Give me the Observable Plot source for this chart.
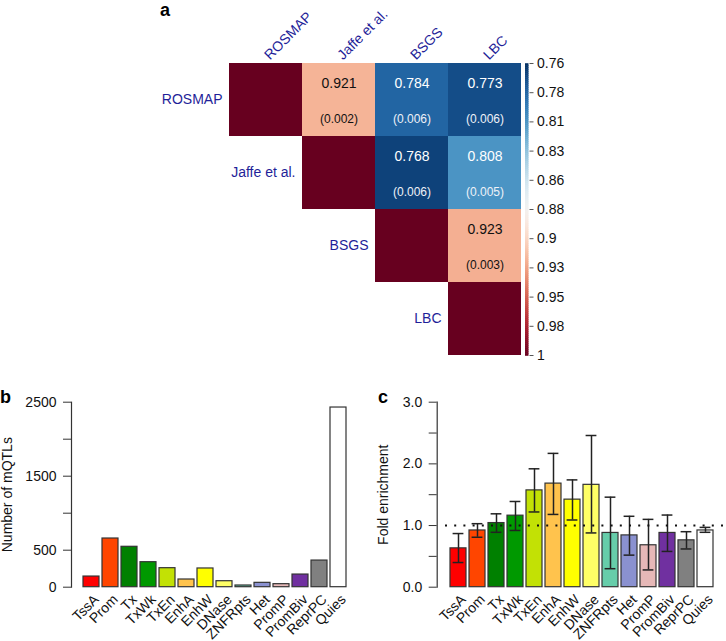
<!DOCTYPE html>
<html><head><meta charset="utf-8">
<script src="https://cdn.jsdelivr.net/npm/d3@7"></script>
<script src="https://cdn.jsdelivr.net/npm/@observablehq/plot@0.6"></script>
<style>
body{margin:0;background:#fff;}
#root{position:relative;width:726px;height:641px;overflow:hidden;font-family:"Liberation Sans",Arial,Helvetica,sans-serif;}
.panel{position:absolute;}
.lab{position:absolute;font-weight:bold;font-size:18px;line-height:20px;color:#000;}
</style></head><body><div id="root"></div>
<script>
// ---------- data ----------
const studies = ["ROSMAP", "Jaffe et al.", "BSGS", "LBC"];
const pairRow = ["ROSMAP", "ROSMAP", "ROSMAP", "Jaffe et al.", "Jaffe et al.", "BSGS"];
const pairCol = ["Jaffe et al.", "BSGS", "LBC", "BSGS", "LBC", "LBC"];
const pairR = [0.921, 0.784, 0.773, 0.768, 0.808, 0.923];
const pairSE = [0.002, 0.006, 0.006, 0.006, 0.005, 0.003];
const diagValue = 1;

const cbTicks = [0.76, 0.784, 0.808, 0.832, 0.856, 0.88, 0.904, 0.928, 0.952, 0.976, 1];
const cbLabels = ["0.76", "0.78", "0.81", "0.83", "0.86", "0.88", "0.9", "0.93", "0.95", "0.98", "1"];

const states = ["TssA", "Prom", "Tx", "TxWk", "TxEn", "EnhA", "EnhW", "DNase", "ZNFRpts", "Het", "PromP", "PromBiv", "ReprPC", "Quies"];
const stateColors = ["#FF0000", "#FF4500", "#008000", "#009900", "#C2E105", "#FFC34D", "#FFFF00", "#FFFF66", "#66CDAA", "#8A91D0", "#E6B8B7", "#7030A0", "#808080", "#FFFFFF"];

const mqtlCounts = [144, 658, 546, 338, 257, 104, 253, 81, 23, 59, 41, 171, 360, 2428];
const bTicks = [0, 500, 1000, 1500, 2000, 2500];
const bTickLabels = ["0", "500", "", "1500", "", "2500"];

const foldEnrich = [0.63, 0.92, 1.04, 1.16, 1.57, 1.68, 1.42, 1.66, 0.88, 0.84, 0.68, 0.88, 0.76, 0.92];
const foldLow =    [0.40, 0.81, 0.89, 0.92, 1.22, 1.18, 1.09, 0.88, 0.30, 0.52, 0.28, 0.58, 0.62, 0.89];
const foldHigh =   [0.87, 1.03, 1.19, 1.39, 1.92, 2.17, 1.74, 2.46, 1.46, 1.15, 1.10, 1.17, 0.90, 0.97];
const cTicks = [0, 0.5, 1, 1.5, 2, 2.5, 3];
const cTickLabels = ["0.0", "", "1.0", "", "2.0", "", "3.0"];

// ---------- setup ----------
const FONT = '"Liberation Sans", Arial, Helvetica, sans-serif';
const root = document.getElementById("root");
function place(node, left, top) {
  node.classList.add("panel");
  node.style.left = left + "px";
  node.style.top = top + "px";
  root.appendChild(node);
}
function label(txt, left, top) {
  const d = document.createElement("div");
  d.className = "lab"; d.textContent = txt;
  d.style.left = left + "px"; d.style.top = top + "px";
  root.appendChild(d);
}
// 0.76 -> dark blue, 1 -> dark red (RdBu)
const colorOpts = {type: "linear", domain: [0.76, 1], interpolate: t => d3.interpolateRdBu(1 - t)};
const labBlue = "#1f1f99";

// ---------- panel a: heatmap ----------
const pairs = pairR.map((r, i) => ({row: pairRow[i], col: pairCol[i], r, se: pairSE[i]}));
const cells = studies.map(s => ({row: s, col: s, r: diagValue})).concat(pairs);

const heat = Plot.plot({
  width: 726, height: 370,
  marginLeft: 229, marginRight: 205, marginTop: 63, marginBottom: 15,
  x: {domain: studies, padding: 0, axis: null},
  y: {domain: studies, padding: 0, axis: null},
  color: colorOpts,
  style: {fontFamily: FONT, fontSize: "14px", background: "transparent", overflow: "visible"},
  marks: [
    Plot.cell(cells, {x: "col", y: "row", fill: "r", inset: 0}),
    Plot.text(pairs.filter(d => d.r > 0.88), {x: "col", y: "row", text: d => d.r.toFixed(3), dy: -16, fontSize: 14, fill: "#111"}),
    Plot.text(pairs.filter(d => d.r <= 0.88), {x: "col", y: "row", text: d => d.r.toFixed(3), dy: -16, fontSize: 14, fill: "#ffffff"}),
    Plot.text(pairs.filter(d => d.r > 0.88), {x: "col", y: "row", text: d => `(${d.se.toFixed(3)})`, dy: 19, fontSize: 12, fill: "#111"}),
    Plot.text(pairs.filter(d => d.r <= 0.88), {x: "col", y: "row", text: d => `(${d.se.toFixed(3)})`, dy: 19, fontSize: 12, fill: "#eef2f8"}),
    Plot.text(studies, {x: d => d, frameAnchor: "top", rotate: -45, textAnchor: "start", dx: -3, dy: -10, fontSize: 14, fill: labBlue}),
    Plot.text(studies, {x: d => d, y: d => d, textAnchor: "end", dx: -43.5, fontSize: 14, fill: labBlue})
  ]
});
place(heat, 0, 0);

// colour bar
const cbLabelMap = new Map(cbTicks.map((t, i) => [t, cbLabels[i]]));
const ramp = d3.range(0, 146).map(i => 0.76 + (i + 0.5) * (0.24 / 146));
const cbar = Plot.plot({
  width: 90, height: 370,
  marginLeft: 10, marginRight: 76.5, marginTop: 63, marginBottom: 15,
  y: {domain: [0.76, 1], reverse: true},
  color: colorOpts,
  style: {fontFamily: FONT, fontSize: "14px", background: "transparent", overflow: "visible"},
  marks: [
    Plot.ruleY(ramp, {y: d => d, stroke: d => d, strokeWidth: 2.6}),
    Plot.axisY(cbTicks, {anchor: "right", tickSize: 4, tickPadding: 4, tickFormat: d => cbLabelMap.get(d), fontSize: 14, stroke: "#555", fill: "#111", label: null})
  ]
});
place(cbar, 515, 0);

// ---------- panel b ----------
const bData = states.map((s, i) => ({state: s, n: mqtlCounts[i], col: stateColors[i]}));
const bLabelMap = new Map(bTicks.map((t, i) => [t, bTickLabels[i]]));
const bPlot = Plot.plot({
  width: 370, height: 261,
  marginLeft: 71, marginRight: 11.3, marginTop: 21.7, marginBottom: 54.3,
  x: {domain: states, paddingInner: 0.16, paddingOuter: 0.52, axis: null},
  y: {domain: [0, 2500]},
  color: {type: "identity"},
  style: {fontFamily: FONT, fontSize: "14px", background: "transparent", overflow: "visible"},
  marks: [
    Plot.barY(bData, {x: "state", y: "n", fill: "col", stroke: "#333", strokeWidth: 1.2}),
    Plot.frame({anchor: "left", stroke: "#333", strokeWidth: 1.2}),
    Plot.axisY(bTicks, {tickSize: 8, tickPadding: 7, tickFormat: d => bLabelMap.get(d), fontSize: 14, stroke: "#333", fill: "#111", label: null}),
    Plot.text(states, {x: d => d, frameAnchor: "bottom", dy: 10, dx: 5, rotate: -45, textAnchor: "end", lineAnchor: "middle", fontSize: 14, fill: "#111"}),
    Plot.text(["Number of mQTLs"], {frameAnchor: "left", rotate: -90, textAnchor: "middle", dx: -63.5, fontSize: 14, fill: "#111"})
  ]
});
place(bPlot, 0, 380);

// ---------- panel c ----------
const cData = states.map((s, i) => ({state: s, v: foldEnrich[i], lo: foldLow[i], hi: foldHigh[i], col: stateColors[i]}));
const cLabelMap = new Map(cTicks.map((t, i) => [t, cTickLabels[i]]));
const cPlot = Plot.plot({
  width: 356, height: 261,
  marginLeft: 66.7, marginRight: 0.7, marginTop: 21.7, marginBottom: 54.3,
  x: {domain: states, paddingInner: 0.16, paddingOuter: 0.548, axis: null},
  y: {domain: [0, 3]},
  color: {type: "identity"},
  style: {fontFamily: FONT, fontSize: "14px", background: "transparent", overflow: "visible"},
  marks: [
    Plot.barY(cData, {x: "state", y: "v", fill: "col", stroke: "#333", strokeWidth: 1.2}),
    Plot.ruleX(cData, {x: "state", y1: "lo", y2: "hi", stroke: "#222", strokeWidth: 1.5}),
    Plot.tickY(cData, {x: "state", y: "hi", insetLeft: 2.6, insetRight: 2.6, stroke: "#222", strokeWidth: 1.5}),
    Plot.tickY(cData, {x: "state", y: "lo", insetLeft: 2.6, insetRight: 2.6, stroke: "#222", strokeWidth: 1.5}),
    Plot.ruleY([1], {stroke: "#111", strokeWidth: 2, strokeDasharray: "2,7.2", insetLeft: 8.3}),
    Plot.frame({anchor: "left", stroke: "#333", strokeWidth: 1.2}),
    Plot.axisY(cTicks, {tickSize: 8, tickPadding: 7, tickFormat: d => cLabelMap.get(d), fontSize: 14, stroke: "#333", fill: "#111", label: null}),
    Plot.text(states, {x: d => d, frameAnchor: "bottom", dy: 10, dx: 5, rotate: -45, textAnchor: "end", lineAnchor: "middle", fontSize: 14, fill: "#111"}),
    Plot.text(["Fold enrichment"], {frameAnchor: "left", rotate: -90, textAnchor: "middle", dx: -53.7, fontSize: 14, fill: "#111"})
  ]
});
place(cPlot, 370, 380);

// panel letters
label("a", 160, 0);
label("b", 0, 387);
label("c", 378, 387);
</script></body></html>
